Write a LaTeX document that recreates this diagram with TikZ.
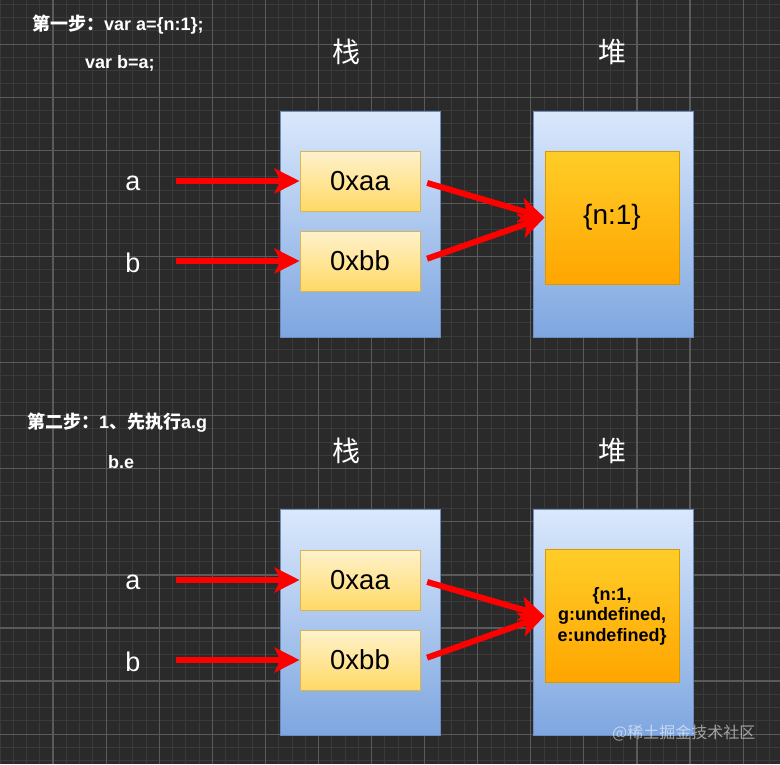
\documentclass[tikz,border=0pt]{standalone}
\usepackage{fontspec}
\setmainfont{Liberation Sans}
\newfontfamily\cjk{Noto Sans CJK SC}
\usetikzlibrary{arrows.meta}
\definecolor{bg}{HTML}{2A2A2A}
\definecolor{gminor}{HTML}{3A3A3A}
\definecolor{gmajor}{HTML}{5A5A5A}
\definecolor{stackTop}{HTML}{DAE8FC}
\definecolor{stackBot}{HTML}{7EA6E0}
\definecolor{stackLine}{HTML}{6C8EBF}
\definecolor{cellTop}{HTML}{FFF2CC}
\definecolor{cellBot}{HTML}{FFD966}
\definecolor{cellLine}{HTML}{D6B656}
\definecolor{objTop}{HTML}{FFCD28}
\definecolor{objBot}{HTML}{FFA500}
\definecolor{objLine}{HTML}{D79B00}
\definecolor{arrowRed}{HTML}{FF0000}
\tikzset{
  minorline/.style={draw=gminor, line width=0.8pt},
  majorline/.style={draw=gmajor, line width=1.2pt},
  stackbox/.style={draw=stackLine, line width=1pt, top color=stackTop, bottom color=stackBot, minimum width=160pt, minimum height=226pt, inner sep=0pt},
  cellbox/.style={draw=cellLine, line width=1pt, top color=cellTop, bottom color=cellBot, minimum width=120pt, minimum height=60pt, inner sep=0pt, font=\fontsize{27.5}{30}\selectfont, text=black},
  objbox/.style={draw=objLine, line width=1pt, top color=objTop, bottom color=objBot, minimum width=134pt, minimum height=133pt, inner sep=0pt, text=black},
  varlabel/.style={text=white, inner sep=0pt, font=\fontsize{27}{30}\selectfont},
  header/.style={text=white, inner sep=0pt, font=\fontsize{28}{30}\selectfont\cjk},
  steptitle/.style={text=white, inner sep=0pt, anchor=west, font=\fontsize{18}{20}\selectfont\bfseries},
  arr/.style={draw=arrowRed, line width=6pt, -{Stealth[length=25pt,width=25pt,inset=6pt]}},
}
\begin{document}
\begin{tikzpicture}[x=1pt,y=-1pt]
\fill[bg] (0,0) rectangle (780,764);
\useasboundingbox (0,0) rectangle (780,764);
% grid
\foreach \k in {0,...,59} \draw[minorline] ({\k*13.27},0) -- ({\k*13.27},764);
\foreach \k in {0,...,57} \draw[minorline] (0,{4.2+\k*13.27}) -- (780,{4.2+\k*13.27});
\foreach \k in {1,...,14} \draw[majorline] ({\k*53.08},0) -- ({\k*53.08},764);
\foreach \k in {0,...,13} \draw[majorline] (0,{44.1+\k*53.08}) -- (780,{44.1+\k*53.08});

% ---------- step 1 ----------
\node[steptitle] (t1) at (32,25) {{\cjk 第一步：}var a=\{n:1\};};
\node[steptitle] (t1b) at (85,63) {var b=a;};
\node[header] (h1s) at (346,52) {栈};
\node[header] (h1h) at (612,52) {堆};

\node[stackbox] (s1) at (360,224) {};
\node[stackbox] (p1) at (613,224) {};
\node[cellbox] (xa1) at (360,181) {0xaa};
\node[cellbox] (xb1) at (360,261) {0xbb};
\node[objbox, font=\fontsize{28}{30}\selectfont] (o1) at (612,217.5) {\{n:1\}};

\node[varlabel] (la1) at (133,183) {a};
\node[varlabel] (lb1) at (133,262.5) {b};

\draw[arr, shorten <=35pt] (la1.east |- xa1.west) -- (xa1.west);
\draw[arr, shorten <=35pt] (lb1.east |- xb1.west) -- (xb1.west);
\draw[arr, shorten <=7pt] (xa1.east) -- (o1.west);
\draw[arr, shorten <=7pt] (xb1.east) -- (o1.west);

% ---------- step 2 ----------
\node[steptitle] (t2) at (27,423) {{\cjk 第二步：}1{\cjk 、先执行}a.g};
\node[steptitle] (t2b) at (108,462) {b.e};
\node[header] (h2s) at (346,451) {栈};
\node[header] (h2h) at (612,451) {堆};

\node[stackbox] (s2) at (360,622.5) {};
\node[stackbox] (p2) at (613,622.5) {};
\node[cellbox] (xa2) at (360,580) {0xaa};
\node[cellbox] (xb2) at (360,660) {0xbb};
\node[objbox, align=center, font=\fontsize{18}{20.5}\selectfont\bfseries] (o2) at (612,616) {\{n:1,\\g:undefined,\\e:undefined\}};

\node[varlabel] (la2) at (133,582) {a};
\node[varlabel] (lb2) at (133,661.5) {b};

\draw[arr, shorten <=35pt] (la2.east |- xa2.west) -- (xa2.west);
\draw[arr, shorten <=35pt] (lb2.east |- xb2.west) -- (xb2.west);
\draw[arr, shorten <=7pt] (xa2.east) -- (o2.west);
\draw[arr, shorten <=7pt] (xb2.east) -- (o2.west);

% watermark
\node[text=white, opacity=0.55, inner sep=0pt, anchor=west, font=\fontsize{16}{18}\selectfont\cjk] (wm) at (612,733) {@稀土掘金技术社区};
\end{tikzpicture}
\end{document}
